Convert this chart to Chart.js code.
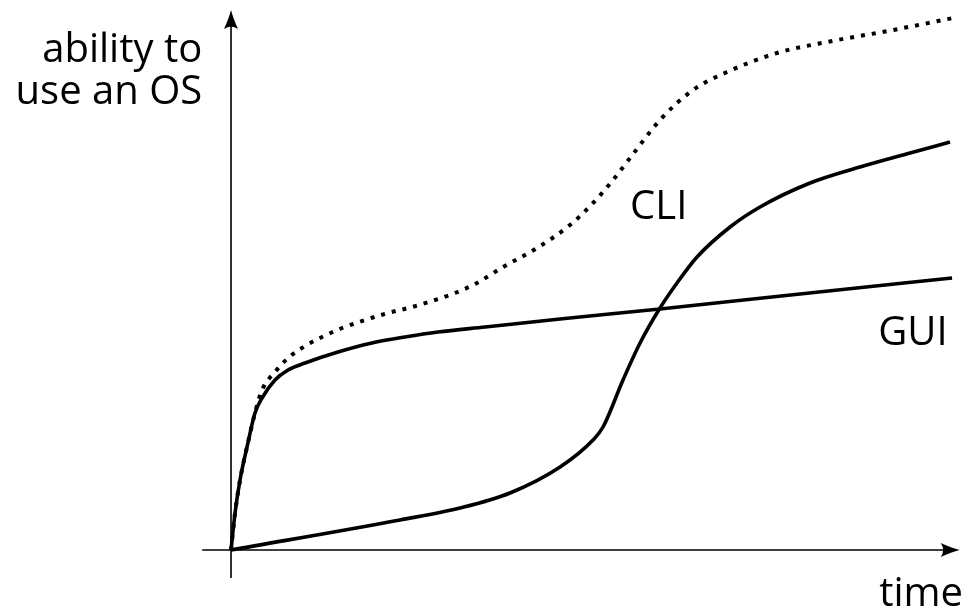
<!DOCTYPE html>
<html>
<head>
<meta charset="utf-8">
<script src="https://cdn.jsdelivr.net/npm/chart.js@4/dist/chart.umd.min.js"></script>
<style>
  html, body { margin: 0; padding: 0; background: #fff; }
  #wrap { width: 967px; height: 610px; position: relative; }
</style>
</head>
<body>
<div id="wrap"><canvas id="c" width="967" height="610"></canvas></div>
<script>
// ---- data (time on x, ability on y) ----
const guiTime    = [0, 0.56, 1.25, 2.22, 3.33, 4.31, 6.11, 7.92, 10.28, 14.86, 19.58, 24.17, 28.75, 35.28, 45.7, 59.58, 79.03, 100.14];
const guiAbility = [0, 7.4, 14, 20.6, 27.4, 30.4, 34, 36, 37.4, 39.6, 41.4, 42.6, 43.6, 44.6, 46.2, 48.2, 51.2, 54.4];

const cliTime    = [0, 23.47, 31.8, 38.75, 45.7, 50.28, 51.67, 54.44, 56.81, 59.58, 61.94, 64.72, 69.31, 73.47, 80.42, 87.36, 94.31, 99.86];
const cliAbility = [0, 6, 8.4, 11.4, 16.6, 22, 24.6, 34, 41.4, 48.4, 53.4, 58.6, 64.6, 68.6, 73.4, 76.6, 79.4, 81.6];

const bothTime    = [0, 0.56, 1.25, 2.22, 3.33, 4.31, 6.11, 7.92, 10.28, 12.64, 15.42, 18.61, 21.81, 25.14, 28.33, 31.11, 33.89, 37.78, 42.5, 47.08, 50.28, 53.06, 55.42, 59.58, 64.17, 68.89, 75.83, 82.78, 91.94, 100.28];
const bothAbility = [0, 7.4, 14, 20.6, 27.4, 32, 35.6, 38.4, 40.8, 42.6, 44.4, 46, 47.4, 48.6, 50, 51.4, 53.2, 56.6, 60.4, 65, 69.4, 74, 78.4, 86, 92, 95.6, 99.4, 101.6, 104, 106.4];

const yAxisLabel = ["ability to", "use an OS"];
const xAxisLabel = "time";
const curveLabels = [
  { text: "CLI", x: 59.4, y: 68.4 },
  { text: "GUI", x: 94.7, y: 43.2 }
];

const toPoints = (xs, ys) => xs.map((x, i) => ({ x: x, y: ys[i] }));

const FONT = '40px "Open Sans", "DejaVu Sans", sans-serif';

function arrowHead(ctx, tipX, tipY, dir) {
  ctx.save();
  ctx.translate(tipX, tipY);
  if (dir === 'up') ctx.rotate(-Math.PI / 2);
  ctx.beginPath();
  ctx.moveTo(0, 0);
  ctx.quadraticCurveTo(-8, -2, -19, -7);
  ctx.quadraticCurveTo(-14, 0, -19, 7);
  ctx.quadraticCurveTo(-8, 2, 0, 0);
  ctx.closePath();
  ctx.fillStyle = '#000';
  ctx.fill();
  ctx.restore();
}

const axesPlugin = {
  id: 'axesArrows',
  beforeDatasetsDraw(chart) {
    const ctx = chart.ctx;
    const xs = chart.scales.x, ys = chart.scales.y;
    const x0 = xs.getPixelForValue(0), y0 = ys.getPixelForValue(0);
    const xStart = xs.getPixelForValue(-4), xEnd = xs.getPixelForValue(101.2);
    const yStart = ys.getPixelForValue(-5.6), yEnd = ys.getPixelForValue(108);
    ctx.save();
    ctx.strokeStyle = '#000';
    ctx.lineWidth = 1.6;
    ctx.beginPath();
    ctx.moveTo(xStart, y0); ctx.lineTo(xEnd - 6, y0);
    ctx.moveTo(x0, yStart); ctx.lineTo(x0, yEnd + 6);
    ctx.stroke();
    arrowHead(ctx, xEnd, y0, 'right');
    arrowHead(ctx, x0, yEnd, 'up');
    ctx.restore();
  },
  afterDatasetsDraw(chart) {
    const ctx = chart.ctx;
    const xs = chart.scales.x, ys = chart.scales.y;
    ctx.save();
    ctx.fillStyle = '#000';
    ctx.font = FONT;
    ctx.textAlign = 'center';
    ctx.textBaseline = 'middle';
    curveLabels.forEach(l => {
      ctx.fillText(l.text, xs.getPixelForValue(l.x), ys.getPixelForValue(l.y));
    });
    ctx.textAlign = 'right';
    ctx.textBaseline = 'alphabetic';
    const yLabRight = xs.getPixelForValue(-4);
    ctx.fillText(yAxisLabel[0], yLabRight, 62);
    ctx.fillText(yAxisLabel[1], yLabRight, 104);
    ctx.fillText(xAxisLabel, 963, 606);
    ctx.restore();
  }
};

const solid = { borderColor: '#000', borderWidth: 3.6, pointRadius: 0, cubicInterpolationMode: 'monotone', fill: false, borderJoinStyle: 'round' };

new Chart(document.getElementById('c'), {
  type: 'line',
  data: {
    datasets: [
      Object.assign({ label: 'GUI', data: toPoints(guiTime, guiAbility) }, solid),
      Object.assign({ label: 'CLI', data: toPoints(cliTime, cliAbility) }, solid),
      {
        label: 'both',
        data: toPoints(bothTime, bothAbility),
        borderColor: '#000',
        borderWidth: 4,
        borderDash: [4, 7],
        borderCapStyle: 'butt',
        pointRadius: 0,
        cubicInterpolationMode: 'monotone',
        fill: false
      }
    ]
  },
  options: {
    responsive: false,
    devicePixelRatio: 1,
    animation: false,
    layout: { padding: { left: 202, right: 2, top: 10, bottom: 30 } },
    plugins: { legend: { display: false }, tooltip: { enabled: false }, title: { display: false } },
    scales: {
      x: { type: 'linear', display: false, min: -4.03, max: 101.94 },
      y: { type: 'linear', display: false, min: -6, max: 108 }
    }
  },
  plugins: [axesPlugin]
});
</script>
</body>
</html>
